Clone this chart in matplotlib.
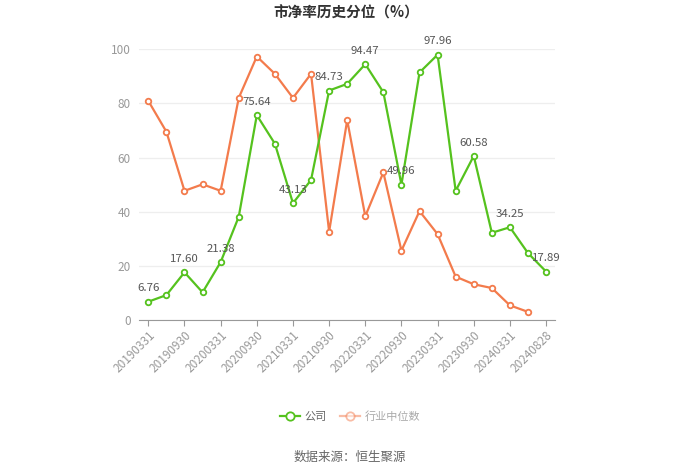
import numpy as np
import matplotlib
matplotlib.use("Agg")
from matplotlib import pyplot as plt
from matplotlib.lines import Line2D

plt.rcParams['font.family'] = ['Noto Sans CJK SC', 'DejaVu Sans']

dates = ['20190331', '20190630', '20190930', '20191231',
         '20200331', '20200630', '20200930', '20201231',
         '20210331', '20210630', '20210930', '20211231',
         '20220331', '20220630', '20220930', '20221231',
         '20230331', '20230630', '20230930', '20231231',
         '20240331', '20240630', '20240828']
company = [6.76, 9.2, 17.60, 10.2, 21.38, 38.1, 75.64, 65.1, 43.13, 51.7,
           84.73, 87.2, 94.47, 84.1, 49.96, 91.4, 97.96, 47.7, 60.58, 32.2,
           34.25, 24.7, 17.89]
industry = [80.9, 69.5, 47.7, 50.1, 47.7, 82.0, 97.3, 90.9, 82.0, 90.9,
            32.6, 73.8, 38.3, 54.5, 25.6, 40.2, 31.7, 16.0, 13.2, 11.8,
            5.4, 3.0]
labeled = [0, 2, 4, 6, 8, 10, 12, 14, 16, 18, 20, 22]

green = '#55c21e'
orange = '#f37b4c'

fig = plt.figure(figsize=(7, 4.73), dpi=100)
ax = fig.add_axes([0.199, 0.3235, 0.594, 0.5725])

x = np.arange(len(dates))
ax.plot(x, company, color=green, lw=1.6, marker='o', ms=4,
        mfc='white', mec=green, mew=1.3, zorder=3)
ax.plot(x[:len(industry)], industry, color=orange, lw=1.6, marker='o', ms=4,
        mfc='white', mec=orange, mew=1.3, zorder=2)

for i in labeled:
    ax.annotate('%.2f' % company[i], (x[i], company[i]), xytext=(0, 6),
                textcoords='offset points', ha='center', va='bottom',
                fontsize=8.2, color='#555555', zorder=4)

ax.set_xlim(-0.5, len(dates) - 0.5)
ax.set_ylim(0, 100)
ax.set_yticks(np.arange(0, 101, 20))
ax.set_xticks(x[labeled])
ax.set_xticklabels([dates[i] for i in labeled], rotation=45, ha='right',
                   rotation_mode='anchor', fontsize=8.5, color='#999999')
ax.tick_params(axis='y', length=0, labelsize=8.5, labelcolor='#999999', pad=6)
ax.tick_params(axis='x', length=4, color='#999999', pad=2)
ax.grid(axis='y', color='#eeeeee', lw=0.9)
ax.set_axisbelow(True)
for s in ['top', 'right', 'left']:
    ax.spines[s].set_visible(False)
ax.spines['bottom'].set_color('#999999')

fig.text(0.494, 0.974, '市净率历史分位（%）', ha='center', va='center',
         fontsize=10.5, fontweight='bold', color='#333333')

handles = [Line2D([], [], color=green, lw=1.6, marker='o', ms=6,
                  mfc='white', mec=green, mew=1.3),
           Line2D([], [], color=orange, lw=1.6, marker='o', ms=6,
                  mfc='white', mec=orange, mew=1.3, alpha=0.5)]
leg = fig.legend(handles, ['公司', '行业中位数'], loc='center',
                 bbox_to_anchor=(0.5, 0.12), ncol=2, frameon=False,
                 fontsize=8, handlelength=1.8, columnspacing=1.2,
                 handletextpad=0.4)
leg.get_texts()[0].set_color('#666666')
leg.get_texts()[1].set_color('#aaaaaa')

fig.text(0.5, 0.033, '数据来源：恒生聚源', ha='center', va='center',
         fontsize=9, color='#666666')

fig.savefig('out.png', dpi=100)
